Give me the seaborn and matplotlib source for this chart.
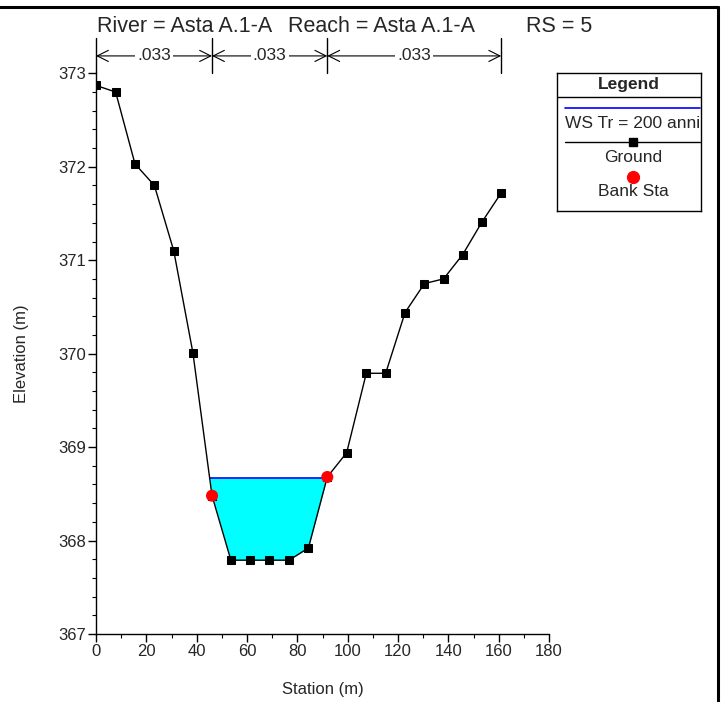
import numpy as np
import pandas as pd
import matplotlib
matplotlib.use("Agg")
import matplotlib.pyplot as plt
from matplotlib.lines import Line2D
from matplotlib.ticker import MultipleLocator
import seaborn as sns

# cross section data
station = [0.0, 7.8, 15.5, 23.2, 30.9, 38.5, 46.1, 53.6, 61.3, 68.9, 76.7, 84.4,
           91.9, 99.6, 107.4, 115.1, 122.8, 130.5, 138.1, 145.7, 153.4, 161.0]
elevation = [372.87, 372.80, 372.03, 371.80, 371.10, 370.01, 368.48, 367.79, 367.79,
             367.79, 367.79, 367.92, 368.68, 368.94, 369.79, 369.79, 370.44, 370.75,
             370.80, 371.06, 371.41, 371.72]
bank_sta = [46.1, 91.9]
bank_elev = [368.48, 368.68]
ws_elev = 368.67
n_breaks = [0.0, 46.1, 91.9, 161.0]
n_values = [".033", ".033", ".033"]

df = pd.DataFrame({"Station": station, "Elevation": elevation})
banks = pd.DataFrame({"Station": bank_sta, "Elevation": bank_elev})

sns.set_style("ticks")
plt.rcParams['font.family'] = ['Liberation Sans', 'DejaVu Sans']

W, H = 724, 702
fig = plt.figure(figsize=(W / 100, H / 100), dpi=100)
ax = fig.add_axes([96 / W, (H - 634) / H, 453 / W, 560.7 / H])

# water surface
sta = np.array(station)
elev = np.array(elevation)
ax.fill_between(sta, elev, ws_elev, where=elev <= ws_elev, interpolate=True,
                color="#00FFFF", lw=0, zorder=1)
wet = np.where(elev < ws_elev)[0]
i, j = wet[0], wet[-1]
x_left = np.interp(ws_elev, [elev[i], elev[i - 1]], [sta[i], sta[i - 1]])
x_right = np.interp(ws_elev, [elev[j], elev[j + 1]], [sta[j], sta[j + 1]])
ax.plot([x_left, x_right], [ws_elev, ws_elev], color="#0000FF", lw=1.2, zorder=2)

# ground
sns.lineplot(data=df, x="Station", y="Elevation", sort=False, color="black",
             lw=1, marker="s", markersize=5.5, markeredgecolor="black", ax=ax, zorder=3)
sns.scatterplot(data=banks, x="Station", y="Elevation", color="red", s=75,
                edgecolor="none", ax=ax, zorder=4)

ax.set_xlim(0, 180)
ax.set_ylim(367, 373)
ax.xaxis.set_major_locator(MultipleLocator(20))
ax.xaxis.set_minor_locator(MultipleLocator(10))
ax.yaxis.set_major_locator(MultipleLocator(1))
ax.yaxis.set_minor_locator(MultipleLocator(0.2))
ax.tick_params(which="major", length=6, width=1, labelsize=12, pad=1, color="black")
ax.tick_params(which="minor", length=3, width=0.8, color="black")
for s in ["top", "right"]:
    ax.spines[s].set_visible(False)
for s in ["left", "bottom"]:
    ax.spines[s].set_color("black")
    ax.spines[s].set_linewidth(1)
ax.set_xlabel("Station (m)", fontsize=12, labelpad=17)
ax.set_ylabel("Elevation (m)", fontsize=12, labelpad=21)

# manning's n markers above the plot
tr = ax.get_xaxis_transform()
for xb in n_breaks:
    ax.plot([xb, xb], [1.001, 1.063], transform=tr, color="black", lw=1, clip_on=False)
for k, val in enumerate(n_values):
    a, b = n_breaks[k], n_breaks[k + 1]
    ax.annotate("", xy=(b, 1.031), xytext=(a, 1.031), xycoords=tr, textcoords=tr,
                arrowprops=dict(arrowstyle="<->", lw=0.8, color="black",
                                shrinkA=0, shrinkB=0, mutation_scale=20))
    ax.text((a + b) / 2, 1.031, val, transform=tr, ha="center", va="center",
            fontsize=12.5, bbox=dict(facecolor="white", edgecolor="none", pad=1.5))

# title
for txt, xp in [("River = Asta A.1-A", 97), ("Reach = Asta A.1-A", 288), ("RS = 5", 526)]:
    fig.text(xp / W, 1 - 31.7 / H, txt, fontsize=15.5, ha="left", va="baseline")

# legend box drawn in its own axes (pixel units)
lax = fig.add_axes([557 / W, (H - 211) / H, 144 / W, 138 / H])
lax.set_xlim(557, 701)
lax.set_ylim(211, 73)
lax.set_xticks([])
lax.set_yticks([])
for s in lax.spines.values():
    s.set_color("black")
    s.set_linewidth(1)
lax.plot([557, 701], [96.7, 96.7], color="black", lw=1)
lax.text(629, 84.5, "Legend", ha="center", va="center", fontsize=12.5, fontweight="bold")
lax.plot([565, 700], [107.7, 107.7], color="#0000FF", lw=1.2)
lax.text(633, 123, "WS Tr = 200 anni", ha="center", va="center", fontsize=12.5)
lax.plot([565, 700], [142, 142], color="black", lw=1)
lax.plot([633], [142], marker="s", color="black", markersize=5.5)
lax.text(633, 157.5, "Ground", ha="center", va="center", fontsize=12.5)
lax.plot([633], [176.7], marker="o", color="red", markersize=8.5)
lax.text(633, 192, "Bank Sta", ha="center", va="center", fontsize=12.5)

# outer frame (top and right edges)
fig.add_artist(Line2D([0, 717.5 / W], [1 - 6.5 / H, 1 - 6.5 / H], color="black", lw=2.2))
fig.add_artist(Line2D([717.5 / W, 717.5 / W], [0, 1 - 6.5 / H], color="black", lw=2.2))

fig.savefig("out.png", dpi=100)
